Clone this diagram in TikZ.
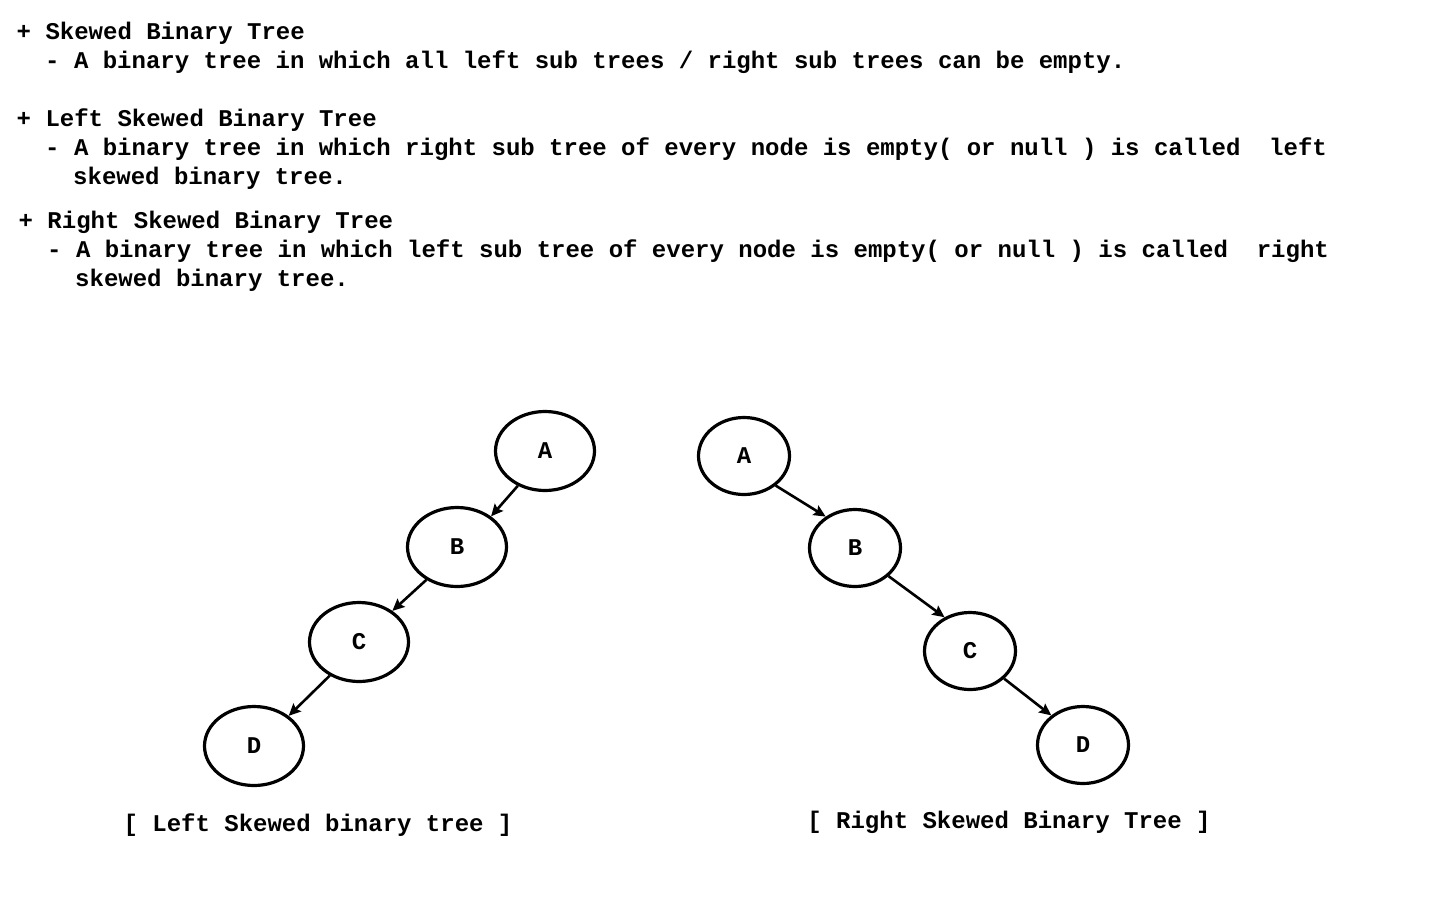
\documentclass[tikz,border=0pt]{standalone}
\usepackage{fontspec}
\setmonofont{Liberation Mono}
\usetikzlibrary{arrows.meta,shapes.geometric}
\begin{document}
\begin{tikzpicture}[x=1pt,y=-1pt,
  txt/.style={anchor=base west,inner sep=0pt,font=\ttfamily\bfseries\fontsize{24}{29}\selectfont},
  captxt/.style={anchor=base,inner sep=0pt,font=\ttfamily\bfseries\fontsize{24}{29}\selectfont},
  lnode/.style={draw,ellipse,line width=3.2pt,minimum width=99pt,minimum height=79pt,inner sep=0pt,font=\ttfamily\bfseries\fontsize{24}{28}\selectfont},
  rnode/.style={draw,ellipse,line width=3.2pt,minimum width=91pt,minimum height=77pt,inner sep=0pt,font=\ttfamily\bfseries\fontsize{24}{28}\selectfont},
  conn/.style={line width=2.6pt,-{Stealth[length=12pt,width=11pt,inset=2pt]}}]
\useasboundingbox (0,0) rectangle (1440,900);
\fill[white] (0,0) rectangle (1440,900);
% text
\node[txt] (t1) at (16.5,39) {+ Skewed Binary Tree};
\node[txt] (t2) at (45,68) {- A binary tree in which all left sub trees / right sub trees can be empty.};
\node[txt] (t3) at (16.5,126) {+ Left Skewed Binary Tree};
\node[txt] (t4) at (45,155) {- A binary tree in which right sub tree of every node is empty( or null ) is called~~left};
\node[txt] (t5) at (73,184) {skewed binary tree.};
\node[txt] (t6) at (18.5,228) {+ Right Skewed Binary Tree};
\node[txt] (t7) at (47,257) {- A binary tree in which left sub tree of every node is empty( or null ) is called~~right};
\node[txt] (t8) at (75,286) {skewed binary tree.};
% left tree
\node[lnode] (LA) at (545,451) {A};
\node[lnode] (LB) at (457,547) {B};
\node[lnode] (LC) at (359,642) {C};
\node[lnode] (LD) at (254,746) {D};
\draw[conn] (LA.232) -- (LB.42);
\draw[conn] (LB.227) -- (LC.43);
\draw[conn] (LC.229) -- (LD.41);
% right tree
\node[rnode] (RA) at (744,456) {A};
\node[rnode] (RB) at (855,548) {B};
\node[rnode] (RC) at (970,651) {C};
\node[rnode] (RD) at (1083,745) {D};
\draw[conn] (RA.-43) -- (RB.133);
\draw[conn] (RB.-40) -- (RC.127);
\draw[conn] (RC.-39) -- (RD.137);
% captions
\node[captxt] (c1) at (318,831) {[ Left Skewed binary tree ]};
\node[captxt] (c2) at (1009,828) {[ Right Skewed Binary Tree ]};
\end{tikzpicture}
\end{document}
